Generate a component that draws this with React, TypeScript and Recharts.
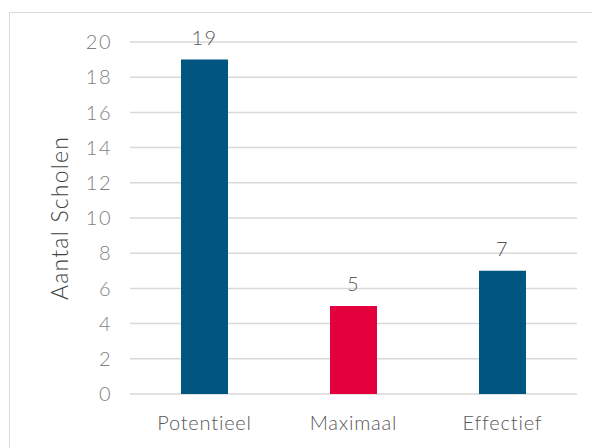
import { BarChart, Bar, XAxis, YAxis, CartesianGrid, LabelList, Cell } from 'recharts'

const categories = ['Potentieel', 'Maximaal', 'Effectief']
const values = [19, 5, 7]
const barColors = ['#005581', '#E4003F', '#005581']
const yTicks = [0, 2, 4, 6, 8, 10, 12, 14, 16, 18, 20]

const data = categories.map((name, i) => ({ name, value: values[i] }))

const FONT = 'Lato, "Open Sans", sans-serif'

function AxisTitle({ viewBox }: any) {
  const cx = viewBox.x - 11
  const cy = viewBox.y + viewBox.height / 2
  return (
    <text
      x={cx}
      y={cy}
      transform={`rotate(-90 ${cx} ${cy})`}
      textAnchor="middle"
      dominantBaseline="central"
      fontFamily={FONT}
      fontWeight={300}
      fontSize={23}
      letterSpacing={1.2}
      fill="#404040"
    >
      Aantal Scholen
    </text>
  )
}

export default function App() {
  return (
    <div style={{ position: 'absolute', left: 0, top: 0, width: 592, height: 448, background: '#fff', overflow: 'hidden' }}>
      <div
        style={{
          position: 'absolute',
          left: 9,
          top: 12,
          width: 620,
          height: 460,
          border: '1px solid #d9d9d9',
          boxSizing: 'border-box',
        }}
      />
      <div style={{ position: 'absolute', left: 0, top: 0 }}>
        <BarChart
          width={592}
          height={448}
          data={data}
          margin={{ top: 42, right: 15, bottom: 24, left: 70 }}
          barSize={47}
        >
          <CartesianGrid vertical={false} stroke="#d9d9d9" strokeWidth={1.5} />
          <XAxis
            dataKey="name"
            axisLine={false}
            tickLine={false}
            tick={{ fontSize: 20, fill: '#595959', fontFamily: FONT, fontWeight: 300, letterSpacing: 0.8 }}
            tickMargin={16}
          />
          <YAxis
            width={60}
            domain={[0, 20]}
            ticks={yTicks}
            interval={0}
            axisLine={false}
            tickLine={false}
            tick={{ fontSize: 20, fill: '#7f7f7f', fontFamily: FONT, fontWeight: 300, letterSpacing: 1.5 }}
            tickMargin={12}
            label={<AxisTitle />}
          />
          <Bar dataKey="value" isAnimationActive={false}>
            {data.map((d, i) => (
              <Cell key={d.name} fill={barColors[i]} />
            ))}
            <LabelList
              dataKey="value"
              position="top"
              offset={15}
              style={{ fontSize: 20, fill: '#595959', fontFamily: FONT, fontWeight: 300, letterSpacing: 1.5 }}
            />
          </Bar>
        </BarChart>
      </div>
    </div>
  )
}
